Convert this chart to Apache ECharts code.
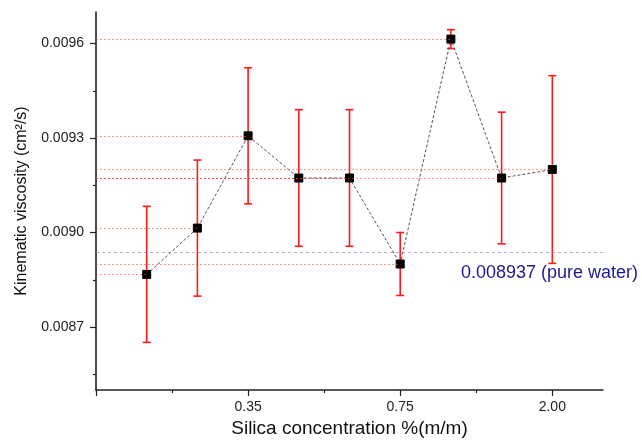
<!DOCTYPE html>
<html>
<head>
<meta charset="utf-8">
<script src="https://cdn.jsdelivr.net/npm/echarts@6/dist/echarts.min.js"></script>
<style>
  html, body { margin: 0; padding: 0; background: #fff; }
  #chart { width: 642px; height: 443px; }
</style>
</head>
<body>
<div id="chart"></div>
<script>
// Sample positions along the concentration axis (one per measured sample)
const samplePos = [1, 2, 3, 4, 5, 6, 7, 8, 9];
// Mean kinematic viscosity (cm²/s) of each sample
const viscosity = [0.008867, 0.009014, 0.009307, 0.009173, 0.009173, 0.008900, 0.009614, 0.009173, 0.009200];
// Standard deviation of each sample
const viscErr = [0.000216, 0.000216, 0.000216, 0.000217, 0.000217, 0.000100, 0.000030, 0.000209, 0.000298];
// Labelled concentration ticks and where they sit on the axis
const xTickLabels = ['0.35', '0.75', '2.00'];
const xTickPos = [3, 6, 9];
const xMajorTicks = [0, 3, 6, 9];
const xMinorTicks = [1.5, 4.5, 7.5];
// Viscosity ticks
const yMajorTicks = [0.0087, 0.0090, 0.0093, 0.0096];
const yMinorTicks = [0.00855, 0.00885, 0.00915, 0.00945];
// Reference value for pure water
const pureWater = 0.008937;

const FONT = 'Liberation Sans, Arial, sans-serif';
const X_MIN = 0, X_MAX = 10;

const points = samplePos.map((x, i) => [x, viscosity[i]]);
const bars = samplePos.map((x, i) => [x, viscosity[i] - viscErr[i], viscosity[i] + viscErr[i]]);
const dropLines = samplePos.map((x, i) => [
  { coord: [X_MIN, viscosity[i]] },
  { coord: [x, viscosity[i]] }
]);

const chart = echarts.init(document.getElementById('chart'), null, { renderer: 'canvas' });

chart.setOption({
  animation: false,
  backgroundColor: '#fff',
  grid: { left: 96, top: 12, right: 39, bottom: 53, containLabel: false, outerBoundsMode: 'none' },
  xAxis: [
    {
      type: 'value', min: X_MIN, max: X_MAX, position: 'bottom',
      name: 'Silica concentration %(m/m)',
      nameLocation: 'middle', nameGap: 28,
      nameTextStyle: { fontFamily: FONT, fontSize: 19, color: '#111' },
      axisLine: { show: true, onZero: false, lineStyle: { color: '#222', width: 1.5 } },
      axisTick: { show: true, inside: false, length: 6, customValues: xMajorTicks, lineStyle: { color: '#222', width: 1.2 } },
      axisLabel: {
        show: true, margin: 10, customValues: xTickPos,
        fontFamily: FONT, fontSize: 14, color: '#222',
        formatter: v => xTickLabels[xTickPos.indexOf(v)] ?? ''
      },
      splitLine: { show: false }
    },
    {
      type: 'value', min: X_MIN, max: X_MAX, position: 'bottom', offset: 0,
      axisLine: { show: false, onZero: false },
      axisTick: { show: true, inside: false, length: 3, customValues: xMinorTicks, lineStyle: { color: '#222', width: 1.2 } },
      axisLabel: { show: false },
      splitLine: { show: false }
    }
  ],
  yAxis: [
    {
      type: 'value', min: 0.0085, max: 0.0097, position: 'left',
      name: 'Kinematic viscosity (cm²/s)',
      nameLocation: 'middle', nameGap: 66,
      nameTextStyle: { fontFamily: FONT, fontSize: 16, color: '#111' },
      axisLine: { show: true, onZero: false, lineStyle: { color: '#111', width: 1.5 } },
      axisTick: { show: true, inside: false, length: 6, customValues: yMajorTicks, lineStyle: { color: '#222', width: 1.2 } },
      axisLabel: {
        show: true, margin: 12, customValues: yMajorTicks,
        fontFamily: FONT, fontSize: 14, color: '#222',
        formatter: v => v.toFixed(4)
      },
      splitLine: { show: false }
    },
    {
      type: 'value', min: 0.0085, max: 0.0097, position: 'left', offset: 0,
      axisLine: { show: false, onZero: false },
      axisTick: { show: true, inside: false, length: 3, customValues: yMinorTicks, lineStyle: { color: '#222', width: 1.2 } },
      axisLabel: { show: false },
      splitLine: { show: false }
    }
  ],
  series: [
    {
      // faint guide lines from the axis to each mean, plus the pure water reference
      type: 'line', data: [], xAxisIndex: 0, yAxisIndex: 0, silent: true,
      markLine: {
        silent: true, symbol: 'none', animation: false,
        lineStyle: { color: 'rgba(255,60,60,0.55)', type: [2, 2], width: 1 },
        label: { show: false },
        data: dropLines.concat([[
          {
            coord: [X_MIN, pureWater],
            lineStyle: { color: 'rgba(120,120,210,0.6)', type: [3, 3], width: 1 },
            label: {
              show: true, position: 'insideEndBottom', distance: 8, offset: [43, 4],
              formatter: () => pureWater.toFixed(6) + ' (pure water)',
              fontFamily: FONT, fontSize: 18, color: '#1c1c8c'
            }
          },
          { coord: [X_MAX, pureWater] }
        ]])
      },
      z: 1
    },
    {
      // error bars with caps
      type: 'custom', xAxisIndex: 0, yAxisIndex: 0,
      data: bars,
      renderItem: (params, api) => {
        const x = api.value(0);
        const lo = api.coord([x, api.value(1)]);
        const hi = api.coord([x, api.value(2)]);
        const cap = 4;
        const style = { stroke: '#ff1a1a', lineWidth: 1.6 };
        return {
          type: 'group',
          children: [
            { type: 'line', shape: { x1: lo[0], y1: lo[1], x2: hi[0], y2: hi[1] }, style },
            { type: 'line', shape: { x1: hi[0] - cap, y1: hi[1], x2: hi[0] + cap, y2: hi[1] }, style },
            { type: 'line', shape: { x1: lo[0] - cap, y1: lo[1], x2: lo[0] + cap, y2: lo[1] }, style }
          ]
        };
      },
      z: 2
    },
    {
      type: 'line', xAxisIndex: 0, yAxisIndex: 0,
      data: points,
      symbol: 'rect', symbolSize: 8,
      itemStyle: { color: '#000', borderColor: '#000' },
      lineStyle: { color: '#555', width: 1, type: [3, 2] },
      z: 3
    }
  ]
});
</script>
</body>
</html>
